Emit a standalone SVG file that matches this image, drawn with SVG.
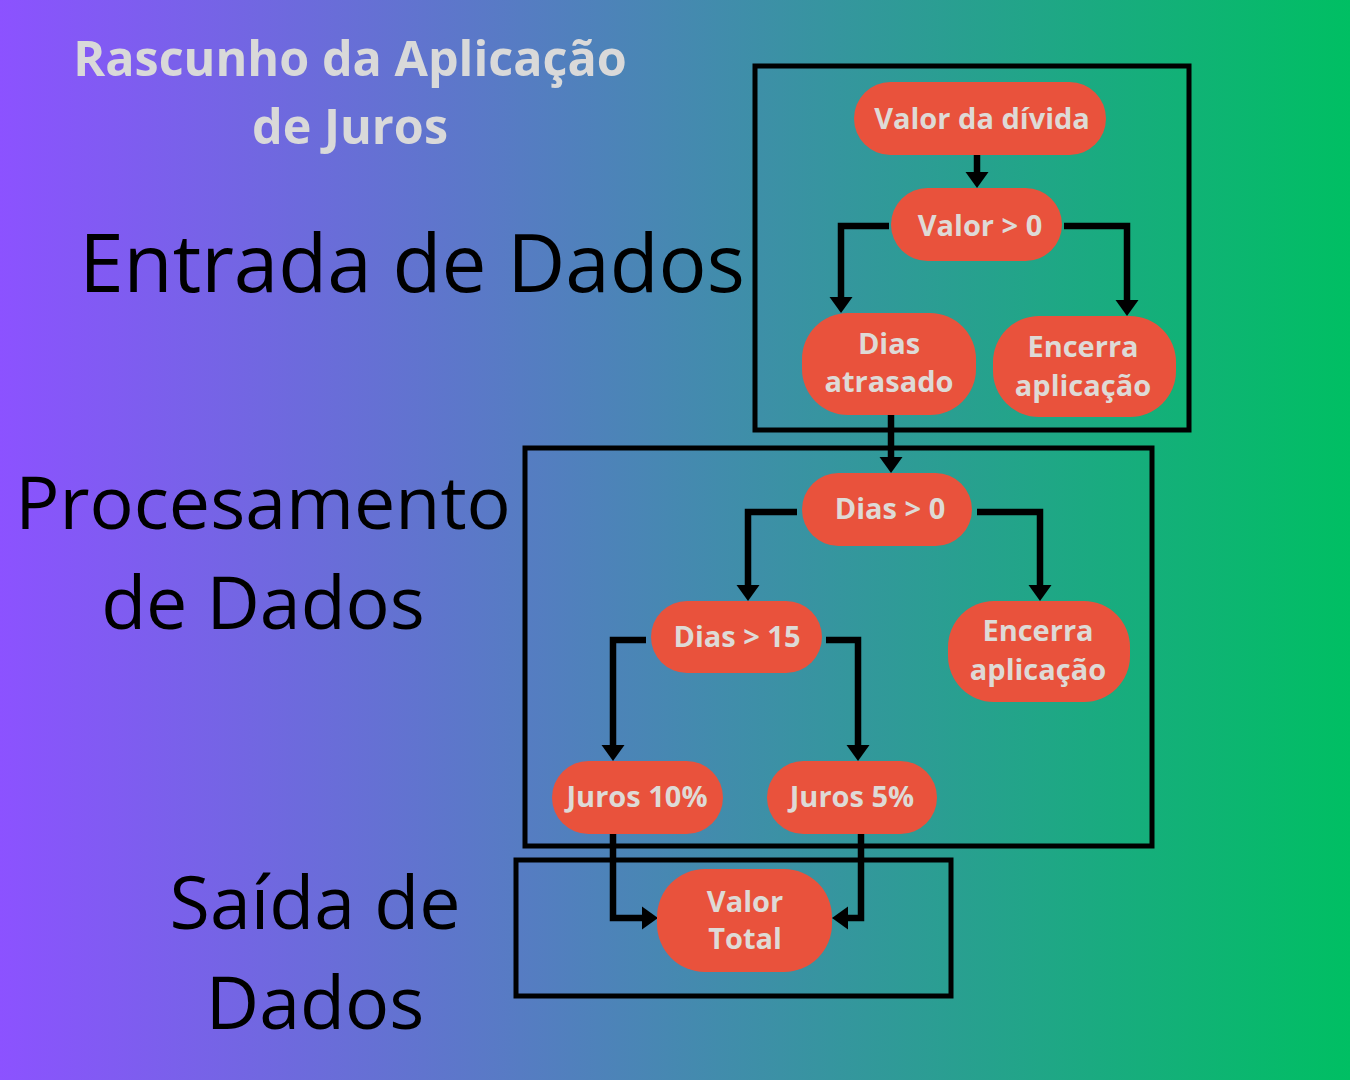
<svg xmlns="http://www.w3.org/2000/svg" width="1350" height="1080" viewBox="0 0 1350 1080">
<defs>
<linearGradient id="bg" x1="0" y1="0" x2="1" y2="0">
<stop offset="0" stop-color="#8c52ff"/>
<stop offset="1" stop-color="#00bf63"/>
</linearGradient>
<marker id="ah" markerUnits="userSpaceOnUse" markerWidth="16" markerHeight="24" refX="0" refY="12" orient="auto" viewBox="0 0 16 24">
<path d="M0,0.5 L16,12 L0,23.5 z" fill="#000"/>
</marker>
<style>
.frame{fill:none;stroke:#000;stroke-width:5}
.node rect{fill:#e9523c}
.node text{font-family:"Open Sans","Noto Sans",sans-serif;font-weight:700;font-size:29px;fill:#dedad6;text-anchor:middle}
.conn path{fill:none;stroke:#000;stroke-width:6.5;stroke-linejoin:miter;marker-end:url(#ah)}
.big{font-family:"Open Sans","Noto Sans",sans-serif;fill:#000;text-anchor:middle}
.title{font-family:"Open Sans","Noto Sans",sans-serif;font-weight:700;font-size:48.5px;fill:#d9d9d9;text-anchor:middle}
</style>
</defs>
<rect x="0" y="0" width="1350" height="1080" fill="url(#bg)"/>
<g id="title">
<text class="title" x="350" y="76">Rascunho da Aplicação</text>
<text class="title" x="350" y="144">de Juros</text>
</g>
<g id="labels">
<text class="big" x="412" y="292" font-size="80">Entrada de Dados</text>
<text class="big" x="263" y="529" font-size="73.5">Procesamento</text>
<text class="big" x="263" y="629" font-size="73.5">de Dados</text>
<text class="big" x="315" y="929" font-size="73.5">Saída de</text>
<text class="big" x="315" y="1029" font-size="73.5">Dados</text>
</g>
<g id="frames">
<rect class="frame" x="755" y="66" width="434" height="364"/>
<rect class="frame" x="525" y="448" width="627" height="398"/>
<rect class="frame" x="516" y="860" width="435" height="136"/>
</g>
<g id="connectors" class="conn">
<path d="M977,155 V172"/>
<path d="M889,226 H841 V297"/>
<path d="M1064,226 H1127 V300"/>
<path d="M891,415 V457"/>
<path d="M797,512 H748 V585"/>
<path d="M977,512 H1040 V585"/>
<path d="M646,640 H613 V745"/>
<path d="M826,640 H858 V745"/>
<path d="M613,834 V918 H642"/>
<path d="M861,834 V918 H848"/>
</g>
<g id="n-valor-divida" class="node">
<rect x="854" y="82" width="252" height="73" rx="36.5"/>
<text x="982" y="129">Valor da dívida</text>
</g>
<g id="n-valor-gt0" class="node">
<rect x="891" y="188" width="171" height="73" rx="36.5"/>
<text x="980" y="236">Valor &gt; 0</text>
</g>
<g id="n-dias-atrasado" class="node">
<rect x="802" y="313" width="174" height="102" rx="46"/>
<text x="889" y="354">Dias</text>
<text x="889" y="392">atrasado</text>
</g>
<g id="n-encerra1" class="node">
<rect x="993" y="316" width="183" height="101" rx="46"/>
<text x="1083" y="357">Encerra</text>
<text x="1083" y="396">aplicação</text>
</g>
<g id="n-dias-gt0" class="node">
<rect x="802" y="473" width="170" height="73" rx="36.5"/>
<text x="890" y="519">Dias &gt; 0</text>
</g>
<g id="n-dias-gt15" class="node">
<rect x="651" y="601" width="171" height="72" rx="36"/>
<text x="737" y="647">Dias &gt; 15</text>
</g>
<g id="n-encerra2" class="node">
<rect x="948" y="601" width="182" height="101" rx="46"/>
<text x="1038" y="641">Encerra</text>
<text x="1038" y="680">aplicação</text>
</g>
<g id="n-juros10" class="node">
<rect x="552" y="761" width="171" height="73" rx="36.5"/>
<text x="637" y="807">Juros 10%</text>
</g>
<g id="n-juros5" class="node">
<rect x="767" y="761" width="170" height="73" rx="36.5"/>
<text x="852" y="807">Juros 5%</text>
</g>
<g id="n-valor-total" class="node">
<rect x="657" y="869" width="175" height="103" rx="48"/>
<text x="745" y="912">Valor</text>
<text x="745" y="949">Total</text>
</g>
</svg>
